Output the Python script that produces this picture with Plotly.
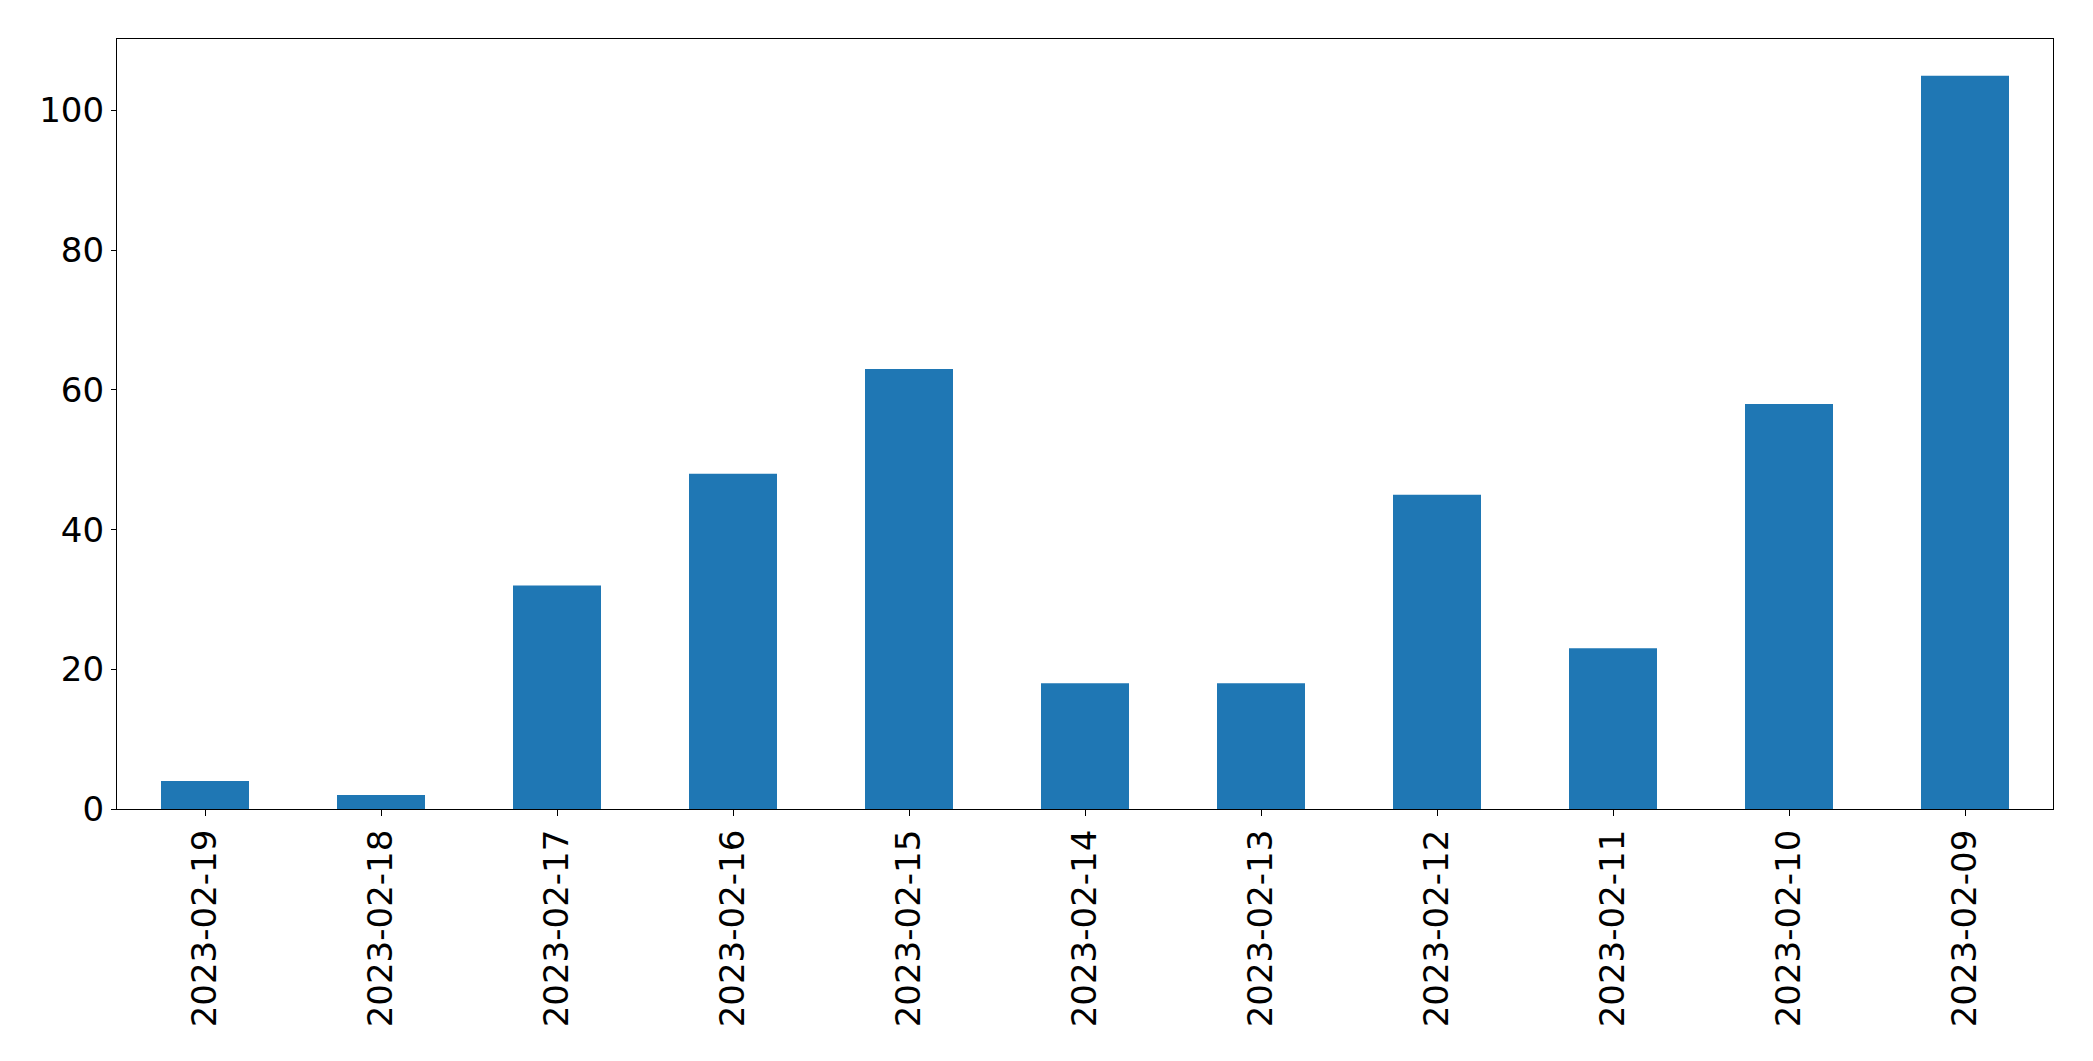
import plotly.graph_objects as go

dates = ["2023-02-19", "2023-02-18", "2023-02-17", "2023-02-16", "2023-02-15",
         "2023-02-14", "2023-02-13", "2023-02-12", "2023-02-11", "2023-02-10", "2023-02-09"]
counts = [4, 2, 32, 48, 63, 18, 18, 45, 23, 58, 105]
y_ticks = [0, 20, 40, 60, 80, 100]

fig = go.Figure(go.Bar(x=dates, y=counts, marker_color="#1f77b4",
                       marker_line_width=0, width=0.5))

font = dict(family="DejaVu Sans", size=34, color="black")
fig.update_layout(
    width=2093, height=1061,
    margin=dict(l=108.5, r=47.7, t=31.3, b=259.7, autoexpand=False),
    paper_bgcolor="white", plot_bgcolor="white",
    showlegend=False, font=font, bargap=0.5,
)
fig.update_xaxes(type="category", range=[-0.5, 10.5], tickangle=-90,
                 showline=True, linecolor="black", linewidth=1.2, mirror=True,
                 ticks="outside", ticklen=6, tickwidth=1.1, tickcolor="black",
                 showgrid=False, tickfont=font, ticklabelstandoff=0)
fig.update_yaxes(range=[0, 110.25], tickvals=y_ticks,
                 showline=True, linecolor="black", linewidth=1.2, mirror=True,
                 ticks="outside", ticklen=5, tickwidth=1.1, tickcolor="black",
                 showgrid=False, zeroline=False, tickfont=font, ticklabelstandoff=0)

fig.write_html("out.html")
